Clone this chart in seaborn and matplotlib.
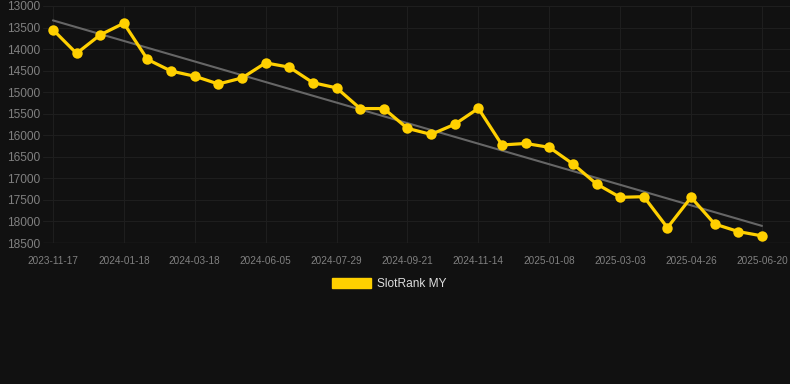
import numpy as np
import pandas as pd
import matplotlib
matplotlib.use("Agg")
import matplotlib.pyplot as plt
from matplotlib.patches import Patch
import seaborn as sns

# ---------- Data ----------
tick_labels = ["2023-11-17", "2024-01-18", "2024-03-18", "2024-06-05", "2024-07-29",
               "2024-09-21", "2024-11-14", "2025-01-08", "2025-03-03", "2025-04-26",
               "2025-06-20"]
rank_values = [13550, 14100, 13670, 13400, 14240, 14510, 14630, 14810, 14670, 14320,
               14420, 14780, 14900, 15380, 15380, 15840, 15980, 15745, 15375, 16225,
               16190, 16280, 16665, 17130, 17440, 17425, 18145, 17440, 18060, 18235,
               18335]
series_name = "SlotRank MY"
tick_every = 3

BG = "#111111"
GOLD = "#FFD000"
GRID = "#1e1e1e"
TXT = "#808080"

df = pd.DataFrame({"idx": np.arange(len(rank_values)), "rank": rank_values})

# ---------- Style ----------
sns.set_style("dark", {"axes.facecolor": BG, "figure.facecolor": BG,
                       "grid.color": GRID, "axes.edgecolor": BG})
plt.rcParams["font.family"] = ["Liberation Sans", "DejaVu Sans"]

fig = plt.figure(figsize=(7.9, 3.84), dpi=100)
ax = fig.add_axes([43 / 790, 1 - 243 / 384, 747 / 790, 237 / 384])

# trend line (least squares fit)
sns.regplot(data=df, x="idx", y="rank", ax=ax, scatter=False, ci=None,
            line_kws={"color": "#666666", "lw": 1.5, "zorder": 2})
sns.lineplot(data=df, x="idx", y="rank", ax=ax, color=GOLD, lw=2.3,
             marker="o", markersize=7.5, markeredgewidth=0, zorder=3)

ax.set_ylim(18500, 13000)
ax.set_yticks(np.arange(13000, 18501, 500))
n = len(rank_values)
ax.set_xlim(-0.42, (790 - 53) / ((762 - 53) / (n - 1)))
ax.set_xticks(np.arange(0, n, tick_every))
ax.set_xticklabels(tick_labels)
ax.grid(True, color=GRID, lw=0.8)
ax.set_axisbelow(True)
ax.set_xlabel("")
ax.set_ylabel("")
ax.tick_params(axis="y", colors=TXT, labelsize=8.6, length=0, pad=2)
ax.tick_params(axis="x", colors=TXT, labelsize=7.2, length=0, pad=9)
ax.axhline(18500, color="#262626", lw=1, zorder=1)
for s in ax.spines.values():
    s.set_visible(False)

handle = Patch(facecolor=GOLD, edgecolor=GOLD)
fig.legend([handle], [series_name], loc="center", bbox_to_anchor=(389 / 790, 1 - 284 / 384),
           frameon=False, fontsize=8.6, labelcolor="#dddddd",
           handlelength=3.3, handleheight=0.9, handletextpad=0.5)

fig.savefig("out.png", dpi=100, facecolor=BG)
